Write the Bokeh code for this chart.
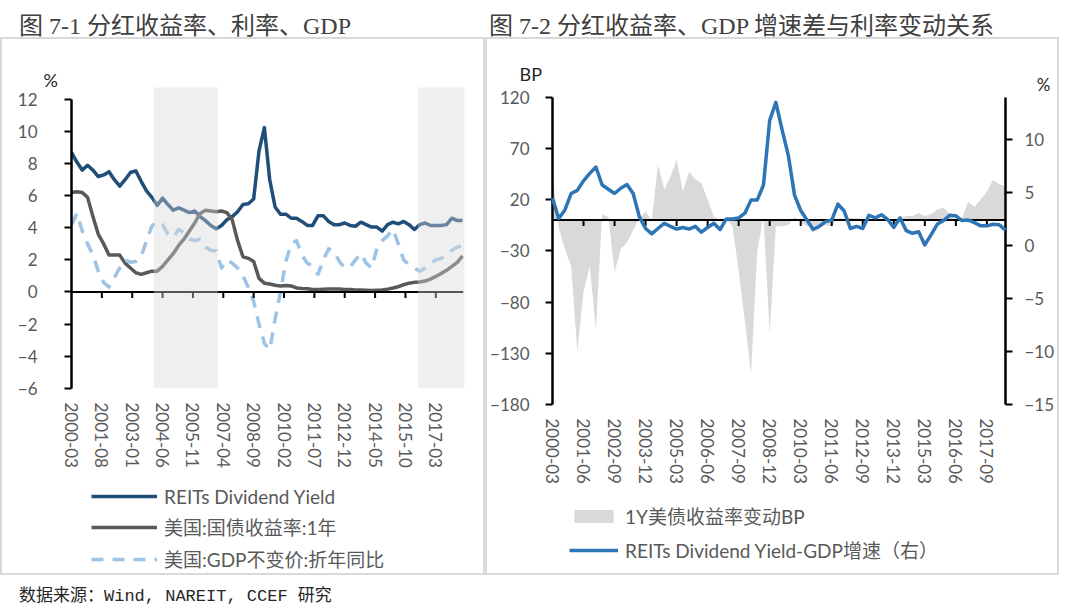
import math
from bokeh.plotting import figure
from bokeh.models import (Range1d, LinearAxis, FixedTicker, Legend, LegendItem,
                          Title, Span, Div)
from bokeh.layouts import row, column
from bokeh.embed import file_html
from bokeh.resources import INLINE

# ---------------- data ----------------
N_Q = 74
quarters = [f"{2000 + (2 + 3 * i) // 12}-{(2 + 3 * i) % 12 + 1:02d}" for i in range(N_Q)]


def month_index(label):
    y, m = label.split("-")
    return (int(y) - 2000) * 12 + int(m) - 3


q_months = [month_index(q) for q in quarters]   # x of the left chart (monthly axis)
q_index = list(range(N_Q))                      # x of the right chart (quarterly axis)

reit_yield = [8.7, 8.1, 7.6, 7.9, 7.6, 7.2, 7.3, 7.5, 7.0, 6.6,
              7.0, 7.45, 7.55, 6.9, 6.3, 5.9, 5.4, 5.85, 5.45, 5.1,
              5.25, 5.1, 4.95, 5.05, 4.7, 4.45, 4.15, 3.95, 4.15, 4.5,
              4.7, 5.0, 5.45, 5.5, 5.8, 8.8, 10.25, 7.0, 5.3, 4.85,
              4.85, 4.6, 4.6, 4.4, 4.15, 4.15, 4.75, 4.75, 4.4, 4.2,
              4.2, 4.3, 4.15, 4.1, 4.35, 4.2, 4.05, 4.05, 3.8, 4.2,
              4.35, 4.25, 4.4, 4.2, 3.9, 4.2, 4.3, 4.15, 4.15, 4.15,
              4.2, 4.6, 4.45, 4.45]

ust_1y = [6.2, 6.25, 6.2, 5.9, 4.7, 3.6, 3.0, 2.3, 2.3, 2.3,
          1.8, 1.5, 1.2, 1.1, 1.2, 1.3, 1.3, 1.6, 2.0, 2.4,
          2.9, 3.3, 3.8, 4.3, 4.9, 5.1, 5.05, 5.0, 5.05, 4.95,
          4.5, 3.2, 2.2, 2.1, 1.9, 0.85, 0.55, 0.5, 0.42, 0.38,
          0.4, 0.38, 0.25, 0.22, 0.2, 0.15, 0.15, 0.17, 0.18, 0.19,
          0.18, 0.16, 0.15, 0.13, 0.12, 0.11, 0.1, 0.11, 0.12, 0.18,
          0.25, 0.33, 0.45, 0.55, 0.6, 0.62, 0.68, 0.8, 0.97, 1.15,
          1.35, 1.6, 1.85, 2.25]

gdp_yoy = [4.2, 4.9, 3.8, 3.0, 2.3, 1.3, 0.6, 0.3, 0.9, 1.5,
           2.0, 1.85, 1.9, 2.2, 3.2, 4.1, 4.4, 4.2, 3.6, 3.4,
           3.9, 3.7, 3.3, 3.2, 3.3, 2.8, 2.6, 2.55, 1.5, 2.0,
           1.8, 1.5, 1.0, 0.3, -0.6, -2.0, -3.2, -3.6, -1.7, 0.0,
           1.9, 3.0, 3.2, 2.3, 1.8, 1.6, 1.1, 2.0, 2.7, 2.5,
           1.9, 1.5, 1.55, 2.0, 2.4, 1.8, 1.5, 2.7, 3.2, 3.5,
           3.9, 3.0, 2.0, 1.7, 1.5, 1.3, 1.5, 1.8, 2.0, 2.1,
           2.3, 2.6, 2.8, 2.9]

ust_1y_chg_bp = [45, -8, -28, -45, -128, -70, -45, -107, 6, 3,
                 -51, -28, -22, -10, 2, 8, 0, 54, 30, 42,
                 59, 28, 47, 40, 36, 20, 3, 0, 2, -6,
                 -49, -99, -150, -30, 3, -111, -6, -6, -5, 3,
                 -2, -6, -7, -6, -5, -6, 2, 1, 2, 2,
                 1, 0, 1, -1, 0, 1, 2, 4, 4, 7,
                 4, 6, 10, 12, 6, 1, 2, 18, 13, 20,
                 28, 39, 35, 33]

yield_gdp_spread = [4.45, 2.55, 3.35, 4.9, 5.2, 6.1, 6.8, 7.4, 5.7, 5.3,
                    4.9, 5.4, 5.75, 4.9, 2.7, 1.6, 1.1, 1.6, 2.1, 1.8,
                    1.55, 1.7, 1.55, 1.8, 1.25, 1.7, 2.1, 1.5, 2.5, 2.5,
                    2.6, 3.05, 4.3, 4.3, 5.7, 11.8, 13.5, 10.9, 8.5, 4.75,
                    3.3, 2.4, 1.5, 1.8, 2.25, 2.4, 3.9, 3.25, 1.6, 1.8,
                    1.6, 2.85, 2.6, 2.9, 2.45, 1.7, 2.6, 1.4, 1.15, 1.3,
                    0.05, 1.0, 2.0, 2.35, 2.85, 2.8, 2.35, 2.4, 2.15, 1.85,
                    1.85, 2.0, 1.95, 1.45]

left_tick_labels = ["2000-03", "2001-08", "2003-01", "2004-06", "2005-11", "2007-04",
                    "2008-09", "2010-02", "2011-07", "2012-12", "2014-05", "2015-10",
                    "2017-03"]
right_tick_labels = ["2000-03", "2001-06", "2002-09", "2003-12", "2005-03", "2006-06",
                     "2007-09", "2008-12", "2010-03", "2011-06", "2012-09", "2013-12",
                     "2015-03", "2016-06", "2017-09"]
shade_start = ["2004-01", "2016-05"]
shade_end = ["2007-01", "2018-07"]

left_y_ticks = [-6, -4, -2, 0, 2, 4, 6, 8, 10, 12]
left_y_view = (-7.14, 12.75)
right_bp_ticks = [-180, -130, -80, -30, 20, 70, 120]
right_bp_view = (-180, 129.4)
right_pct_ticks = [-15, -10, -5, 0, 5, 10]
right_pct_axis = (-15, 14.0)
right_pct_view = (-15, 14.9)

left_titles = ["REITs Dividend Yield", "美国:国债收益率:1年", "美国:GDP不变价:折年同比"]
right_titles = ["1Y美债收益率变动BP", "REITs Dividend Yield-GDP增速（右）"]

# ---------------- styles ----------------
TICK_FONT = "Lato, 'Noto Sans CJK SC'"
TICK_SIZE = "17px"
TICK_COLOR = "#595959"
LEG_SIZE = "19px"
BORDER = {"border": "2px solid #D9D9D9"}
C_REIT, C_UST, C_GDP = "#1F4E79", "#595959", "#9DC3E6"
C_AREA, C_SPREAD = "#D9D9D9", "#2E75B6"

W1, W2 = 481, 570          # canvas widths of the two panels
H_CHART, H_LEG = 447, 87   # canvas heights: chart part and legend part
B_TOP, B_BOTTOM = 48, 80
L1, R1 = 69, 20            # left panel borders around the plot frame
L2, R2 = 65, 51            # right panel borders around the plot frame


def style_y(ax, standoff):
    ax.axis_line_color = "black"
    ax.axis_line_width = 2.5
    ax.major_tick_line_color = "black"
    ax.major_tick_line_width = 2
    ax.major_tick_out = 7
    ax.major_tick_in = 0
    ax.minor_tick_line_color = None
    ax.major_label_text_font = TICK_FONT
    ax.major_label_text_font_size = TICK_SIZE
    ax.major_label_text_color = TICK_COLOR
    ax.major_label_standoff = standoff


def style_x(ax, ticks, labels, standoff):
    ax.ticker = FixedTicker(ticks=ticks)
    ax.major_label_overrides = {t: l for t, l in zip(ticks, labels)}
    ax.major_label_orientation = "vertical"
    ax.axis_line_color = None
    ax.major_tick_line_color = None
    ax.minor_tick_line_color = None
    ax.major_tick_out = 0
    ax.major_tick_in = 0
    ax.major_label_standoff = standoff
    ax.major_label_text_font = TICK_FONT
    ax.major_label_text_font_size = TICK_SIZE
    ax.major_label_text_color = TICK_COLOR


def unit_title(text, align, offset, size, standoff):
    return Title(text=text, align=align, offset=offset, standoff=standoff,
                 text_font=TICK_FONT, text_font_size=size, text_font_style="normal",
                 text_color="#262626")


def legend_figure(width, border_left, border_right):
    # a strip under the chart that only holds the legend; its view range is empty
    f = figure(width=width, height=H_LEG, output_backend="svg", toolbar_location=None,
               x_range=Range1d(-2, -1), y_range=Range1d(0, 1), tools="",
               x_axis_type=None, y_axis_type=None,
               min_border_left=border_left, min_border_right=border_right,
               min_border_top=0, min_border_bottom=0)
    f.grid.visible = False
    f.outline_line_color = None
    return f


def make_legend(items, glyph_w, glyph_h, spacing, loc):
    return Legend(items=items, location=loc, orientation="vertical",
                  glyph_width=glyph_w, glyph_height=glyph_h, spacing=spacing,
                  label_standoff=7, padding=0, margin=0,
                  border_line_color=None, background_fill_alpha=0,
                  label_text_font=TICK_FONT, label_text_font_size=LEG_SIZE,
                  label_text_color=TICK_COLOR)


# ---------------- left chart ----------------
p1 = figure(width=W1, height=H_CHART, output_backend="svg", toolbar_location=None,
            x_range=Range1d(0, 219.5), y_range=Range1d(*left_y_view),
            min_border_left=L1, min_border_right=R1, min_border_top=B_TOP,
            min_border_bottom=B_BOTTOM, tools="")
p1.grid.visible = False
p1.outline_line_color = None

style_y(p1.yaxis[0], 27)
p1.yaxis[0].ticker = FixedTicker(ticks=left_y_ticks)
p1.yaxis[0].bounds = (left_y_ticks[0], left_y_ticks[-1])
left_ticks = [month_index(l) for l in left_tick_labels]
style_x(p1.xaxis[0], left_ticks, left_tick_labels, -4)

p1.line(q_months, reit_yield, line_color=C_REIT, line_width=3.5, line_join="round")
p1.line(q_months, ust_1y, line_color=C_UST, line_width=3.5, line_join="round")
p1.line(q_months, gdp_yoy, line_color=C_GDP, line_width=3.5, line_dash="12 9",
        line_join="round")

p1.add_layout(Span(location=0, dimension="width", line_color="black", line_width=2))
p1.ray(x=left_ticks[1:], y=[0] * (len(left_ticks) - 1), length=6, length_units="screen",
       angle=-math.pi / 2, line_color="black", line_width=2)

p1.quad(left=[month_index(s) for s in shade_start], right=[month_index(e) for e in shade_end],
        bottom=left_y_ticks[0], top=left_y_view[1], fill_color="#D6D6DA", fill_alpha=0.4,
        line_color=None, level="overlay")

p1.add_layout(unit_title("%", "left", -28, "18px", -6), "above")

lf1 = legend_figure(W1, L1, R1)
k1 = lf1.line(q_months, reit_yield, line_color=C_REIT, line_width=3.5)
k2 = lf1.line(q_months, ust_1y, line_color=C_UST, line_width=3.5)
k3 = lf1.line(q_months, gdp_yoy, line_color=C_GDP, line_width=3.5, line_dash="12 9")
lf1.add_layout(make_legend([LegendItem(label=left_titles[0], renderers=[k1]),
                            LegendItem(label=left_titles[1], renderers=[k2]),
                            LegendItem(label=left_titles[2], renderers=[k3])],
                           66, 24, 5, (20, 1)))

# ---------------- right chart ----------------
p2 = figure(width=W2, height=H_CHART, output_backend="svg", toolbar_location=None,
            x_range=Range1d(0, N_Q - 1), y_range=Range1d(*right_bp_view),
            min_border_left=L2, min_border_right=R2, min_border_top=B_TOP,
            min_border_bottom=B_BOTTOM, tools="")
p2.grid.visible = False
p2.outline_line_color = None
p2.extra_y_ranges = {"right": Range1d(*right_pct_view)}

style_y(p2.yaxis[0], 16)
p2.yaxis[0].ticker = FixedTicker(ticks=right_bp_ticks)
p2.yaxis[0].bounds = (right_bp_ticks[0], right_bp_ticks[-1])
right_ticks = [month_index(l) // 3 for l in right_tick_labels]
style_x(p2.xaxis[0], right_ticks, right_tick_labels, 14)

ax_r = LinearAxis(y_range_name="right", ticker=FixedTicker(ticks=right_pct_ticks))
ax_r.bounds = right_pct_axis
style_y(ax_r, 12)
p2.add_layout(ax_r, "right")

p2.varea(x=q_index, y1=0, y2=ust_1y_chg_bp, fill_color=C_AREA, level="underlay")
p2.add_layout(Span(location=0, dimension="width", line_color="black", line_width=2))
p2.ray(x=right_ticks[1:], y=[0] * (len(right_ticks) - 1), length=6, length_units="screen",
       angle=-math.pi / 2, line_color="black", line_width=2)
p2.line(q_index, yield_gdp_spread, y_range_name="right", line_color=C_SPREAD,
        line_width=3.5, line_join="round", level="overlay")

p2.add_layout(unit_title("%", "right", -45, "17px", -14), "above")
p2.add_layout(unit_title("BP", "left", -33, "18px", -12), "above")

lf2 = legend_figure(W2, L2, R2)
k4 = lf2.varea(x=q_index, y1=0, y2=ust_1y_chg_bp, fill_color=C_AREA)
k5 = lf2.line(q_index, yield_gdp_spread, line_color=C_SPREAD, line_width=3.5)
lf2.add_layout(make_legend([LegendItem(label=right_titles[0], renderers=[k4]),
                            LegendItem(label=right_titles[1], renderers=[k5])],
                           49, 16, 7, (17, 10)))

# ---------------- page ----------------
TITLE_STYLE = {"font-family": "'Liberation Serif', 'Noto Sans CJK SC'", "font-size": "24px",
               "line-height": "34px", "color": "#404040", "white-space": "nowrap",
               "padding-top": "4px"}
t1 = Div(text="图 7-1 分红收益率、利率、GDP", width=474, height=27,
         styles=dict(TITLE_STYLE, **{"padding-left": "14px"}))
t2 = Div(text="图 7-2 分红收益率、GDP 增速差与利率变动关系", width=578, height=27,
         styles=dict(TITLE_STYLE))
footer = Div(text="数据来源：Wind, NAREIT, CCEF 研究", width=1040, height=28,
             styles={"font-family": "'Liberation Mono', 'Noto Sans CJK SC'", "font-size": "17px",
                     "line-height": "20px", "color": "#262626", "padding-left": "14px",
                     "position": "relative", "top": "7px", "white-space": "nowrap"})

panel1 = column(p1, lf1, styles=BORDER)
panel2 = column(p2, lf2, styles=BORDER)
layout = column(row(t1, t2), row(panel1, panel2), footer)

open("out.html", "w").write(file_html(layout, INLINE))
